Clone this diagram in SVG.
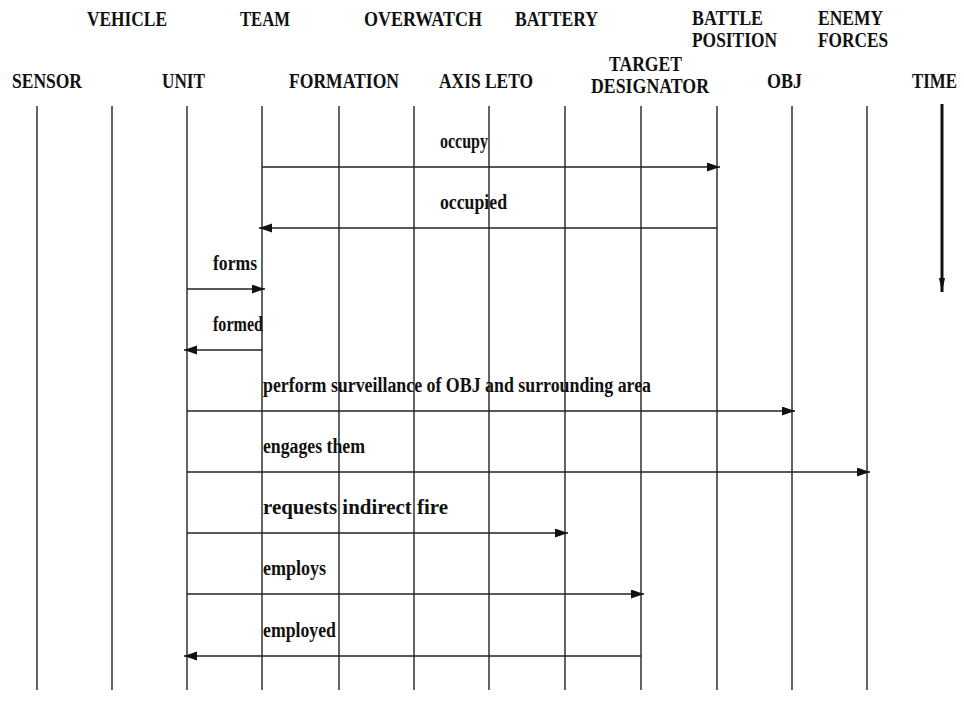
<svg xmlns="http://www.w3.org/2000/svg" width="964" height="717" viewBox="0 0 964 717">
<style>
text{font-family:"Liberation Serif","Times New Roman",serif;font-weight:bold;fill:#111;}
.h{font-size:20px;}
.m{font-size:20px;}
.life{stroke:#222;stroke-width:1.4;fill:none;}
.msg{stroke:#222;stroke-width:1.6;fill:none;marker-end:url(#ah);}
</style>
<defs>
<marker id="ah" markerUnits="userSpaceOnUse" markerWidth="14" markerHeight="10" refX="13" refY="4.5" orient="auto">
<path d="M0,0 L13,4.5 L0,9 z" fill="#111"/>
</marker>
<marker id="ta" markerUnits="userSpaceOnUse" markerWidth="8" markerHeight="15" refX="3" refY="14" orient="0">
<path d="M0,0 L3,14 L6,0 z" fill="#111"/>
</marker>
</defs>
<g id="sensor"><text class="h" x="12" y="88" textLength="70" lengthAdjust="spacingAndGlyphs">SENSOR</text><line class="life" x1="37" y1="106" x2="37" y2="690"/></g>
<g id="vehicle"><text class="h" x="87" y="26" textLength="80" lengthAdjust="spacingAndGlyphs">VEHICLE</text><line class="life" x1="112" y1="106" x2="112" y2="690"/></g>
<g id="unit"><text class="h" x="162" y="88" textLength="43" lengthAdjust="spacingAndGlyphs">UNIT</text><line class="life" x1="187" y1="106" x2="187" y2="690"/></g>
<g id="team"><text class="h" x="240" y="26" textLength="50" lengthAdjust="spacingAndGlyphs">TEAM</text><line class="life" x1="262" y1="106" x2="262" y2="690"/></g>
<g id="formation"><text class="h" x="289" y="88" textLength="110" lengthAdjust="spacingAndGlyphs">FORMATION</text><line class="life" x1="339" y1="106" x2="339" y2="690"/></g>
<g id="overwatch"><text class="h" x="364" y="26" textLength="118" lengthAdjust="spacingAndGlyphs">OVERWATCH</text><line class="life" x1="414" y1="106" x2="414" y2="690"/></g>
<g id="axisleto"><text class="h" x="439" y="88" textLength="94" lengthAdjust="spacingAndGlyphs">AXIS LETO</text><line class="life" x1="489" y1="106" x2="489" y2="690"/></g>
<g id="battery"><text class="h" x="515" y="26" textLength="83" lengthAdjust="spacingAndGlyphs">BATTERY</text><line class="life" x1="565" y1="106" x2="565" y2="690"/></g>
<g id="targetdesignator"><text class="h" x="609" y="71" textLength="73" lengthAdjust="spacingAndGlyphs">TARGET</text><text class="h" x="591" y="93" textLength="118" lengthAdjust="spacingAndGlyphs">DESIGNATOR</text><line class="life" x1="641" y1="106" x2="641" y2="690"/></g>
<g id="battleposition"><text class="h" x="692" y="25" textLength="71" lengthAdjust="spacingAndGlyphs">BATTLE</text><text class="h" x="692" y="47" textLength="85" lengthAdjust="spacingAndGlyphs">POSITION</text><line class="life" x1="717" y1="106" x2="717" y2="690"/></g>
<g id="obj"><text class="h" x="767" y="88" textLength="35" lengthAdjust="spacingAndGlyphs">OBJ</text><line class="life" x1="792" y1="106" x2="792" y2="690"/></g>
<g id="enemyforces"><text class="h" x="818" y="25" textLength="65" lengthAdjust="spacingAndGlyphs">ENEMY</text><text class="h" x="818" y="47" textLength="70" lengthAdjust="spacingAndGlyphs">FORCES</text><line class="life" x1="867" y1="106" x2="867" y2="690"/></g>
<g id="time"><text class="h" x="912" y="88" textLength="45" lengthAdjust="spacingAndGlyphs">TIME</text><line x1="942" y1="104" x2="942" y2="292" stroke="#111" stroke-width="3" marker-end="url(#ta)"/></g>
<g id="connectors">
<line class="msg" x1="262" y1="167" x2="720" y2="167"/>
<text class="m" x="440" y="148" textLength="48" lengthAdjust="spacingAndGlyphs">occupy</text>
<line class="msg" x1="717" y1="228" x2="259" y2="228"/>
<text class="m" x="440" y="209" textLength="67" lengthAdjust="spacingAndGlyphs">occupied</text>
<line class="msg" x1="187" y1="289" x2="265" y2="289"/>
<text class="m" x="213" y="270" textLength="44" lengthAdjust="spacingAndGlyphs">forms</text>
<line class="msg" x1="262" y1="350" x2="184" y2="350"/>
<text class="m" x="213" y="331" textLength="50" lengthAdjust="spacingAndGlyphs">formed</text>
<line class="msg" x1="187" y1="411" x2="795" y2="411"/>
<text class="m" x="263" y="392" textLength="388" lengthAdjust="spacingAndGlyphs">perform surveillance of OBJ and surrounding area</text>
<line class="msg" x1="187" y1="472" x2="870" y2="472"/>
<text class="m" x="263" y="453" textLength="102" lengthAdjust="spacingAndGlyphs">engages them</text>
<line class="msg" x1="187" y1="533" x2="568" y2="533"/>
<text class="m" x="263" y="514" textLength="185" lengthAdjust="spacingAndGlyphs">requests indirect fire</text>
<line class="msg" x1="187" y1="594" x2="644" y2="594"/>
<text class="m" x="263" y="575" textLength="63" lengthAdjust="spacingAndGlyphs">employs</text>
<line class="msg" x1="641" y1="656" x2="184" y2="656"/>
<text class="m" x="263" y="637" textLength="73" lengthAdjust="spacingAndGlyphs">employed</text>
</g>
</svg>
